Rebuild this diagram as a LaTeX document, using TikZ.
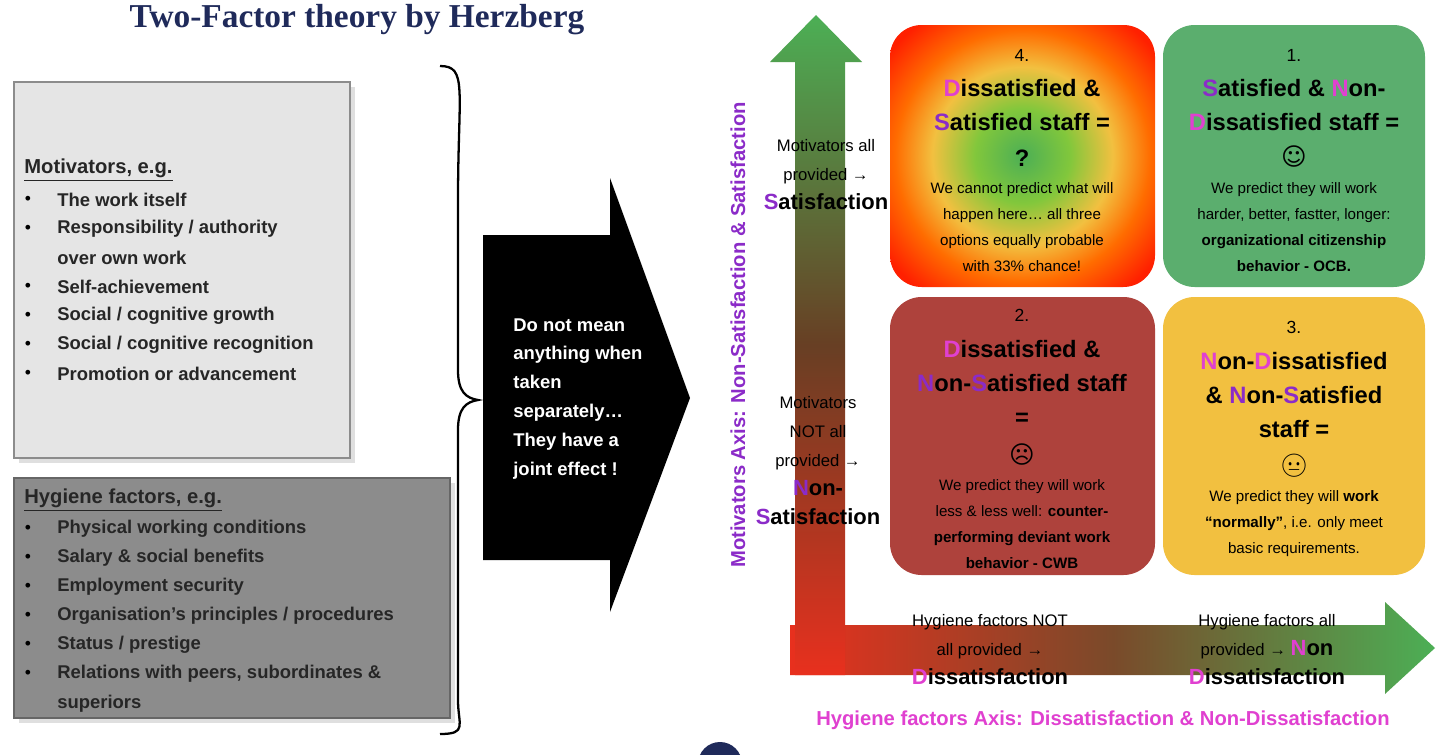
\documentclass[tikz,border=0pt]{standalone}
\usepackage{fontspec}
\setmainfont{Liberation Sans}
\newfontfamily\serifb{Liberation Serif}
\newfontfamily\dejavu{DejaVu Sans}
\newfontfamily\emo{Noto Emoji}
\usetikzlibrary{shadows,shapes.arrows}
\definecolor{navy}{HTML}{1F2A5A}
\definecolor{mag}{HTML}{E040D0}
\definecolor{pur}{HTML}{8B2BC8}
\definecolor{qgreen}{HTML}{5BAE6E}
\definecolor{qred}{HTML}{AE423C}
\definecolor{qyel}{HTML}{F2C040}
\definecolor{agreen}{HTML}{4CAF55}
\definecolor{ared}{HTML}{E8301E}
\definecolor{abrown}{HTML}{7A4A2A}
\pgfdeclareradialshading{qfour}{\pgfpoint{0bp}{0bp}}{color(0bp)=(agreen);color(9bp)=(agreen!70!yellow);color(17bp)=(qyel);color(24bp)=(orange!85!red);color(32bp)=(red!75!orange);color(50bp)=(red!75!orange)}
\newcommand{\Dm}{\textcolor{mag}{D}}
\newcommand{\Sp}{\textcolor{pur}{S}}
\newcommand{\Np}{\textcolor{pur}{N}}
\newcommand{\Nm}{\textcolor{mag}{N}}
\begin{document}
\begin{tikzpicture}[x=0.02cm,y=-0.02cm,
  item/.style={anchor=west,font=\fontsize{10.5}{12}\selectfont\bfseries,text=black!85,inner sep=0},
  bul/.style={anchor=center,font=\fontsize{10}{12}\selectfont,inner sep=0},
  qhead/.style={align=center,font=\fontsize{13.5}{19.5}\selectfont\bfseries,inner sep=0},
  qnum/.style={font=\fontsize{10}{12}\selectfont,inner sep=0},
  qsmall/.style={align=center,font=\fontsize{8.6}{14.8}\selectfont,inner sep=0},
  side/.style={align=center,font=\fontsize{9.5}{16.5}\selectfont,inner sep=0},
  quad/.style={rounded corners=18pt}]
\useasboundingbox (0,0) rectangle (1440,754);
\fill[white] (0,0) rectangle (1440,754);
% title
\node[font=\serifb\fontsize{19}{22}\selectfont\bfseries,text=navy] (title) at (357,20) {Two-Factor theory by Herzberg};
% boxes
\draw[fill=black!10,draw=black!45,line width=1.2pt,drop shadow={opacity=0.25}] (14,82) rectangle (350,458);
\node[item,font=\fontsize{11.5}{13}\selectfont\bfseries] (mh) at (24,170) {\underline{Motivators, e.g.}};
\foreach \t [count=\i] in {The work itself,Responsibility / authority,{},Self-achievement,Social / cognitive growth,Social / cognitive recognition,Promotion or advancement}{
  \node[item] (m\i) at (57,171+29*\i) {\t};}
\node[item] (m3) at (57,258) {over own work};
\foreach \y in {200,229,287,316,345,374} \node[bul] at (28,\y) {•};
\draw[fill=black!45,draw=black!60,line width=1.2pt,drop shadow={opacity=0.25}] (14,478) rectangle (450,718);
\node[item,font=\fontsize{11.5}{13}\selectfont\bfseries] (hh) at (24,500) {\underline{Hygiene factors, e.g.}};
\foreach \t [count=\i] in {Physical working conditions,Salary \& social benefits,Employment security,Organisation's principles / procedures,Status / prestige,{Relations with peers, subordinates \&}}{
  \node[item] (h\i) at (57,500+29*\i) {\t};
  \node[bul] at (28,500+29*\i) {•};}
\node[item] (h7) at (57,704) {superiors};
% brace
\draw[line width=1.3pt] (440,66) .. controls (468,66) and (458,90) .. (458,200) -- (458,370) .. controls (458,392) and (466,398) .. (478,400) .. controls (466,402) and (458,408) .. (458,430) -- (458,700) .. controls (458,725) and (468,734) .. (440,734);
% black arrow
\fill[black] (483,235) -- (610,235) -- (610,178) -- (690,398) -- (610,612) -- (610,560) -- (483,560) -- cycle;
\node[anchor=north west,align=left,text=white,font=\fontsize{10.5}{16.4}\selectfont\bfseries,inner sep=0] (joint) at (513,318) {Do not mean\\anything when\\taken\\separately…\\They have a\\joint effect !};
% axes arrows
\shade[left color=ared,right color=agreen,middle color=abrown] (790,625) -- (1385,625) -- (1385,602) -- (1435,648) -- (1385,694) -- (1385,675) -- (790,675) -- cycle;
\shade[top color=agreen,bottom color=ared,middle color=abrown!85!black] (795,675) -- (795,62) -- (770,62) -- (816,15) -- (862,62) -- (845,62) -- (845,675) -- cycle;
\node[rotate=90,text=pur,font=\fontsize{11.5}{13}\selectfont\bfseries] (vaxis) at (738,335) {Motivators Axis: Non-Satisfaction \& Satisfaction};
\node[text=mag,font=\fontsize{11.5}{13}\selectfont\bfseries] (haxis) at (1103,720) {Hygiene factors Axis: Dissatisfaction \& Non-Dissatisfaction};
% quadrants
\shade[quad,shading=qfour] (890,25) rectangle (1155,287);
\fill[quad,qgreen] (1163,25) rectangle (1425,287);
\fill[quad,qred] (890,297) rectangle (1155,575);
\fill[quad,qyel] (1163,297) rectangle (1425,575);
% q4
\node[qnum] (n4) at (1022,55) {4.};
\node[qhead] (t4) at (1022,105) {\Dm issatisfied \&\\\Sp atisfied staff =};
\node[qhead] (t4b) at (1022,158) {?};
\node[qsmall] (s4) at (1022,227) {We cannot predict what will\\happen here… all three\\options equally probable\\with 33\% chance!};
% q1
\node[qnum] (n1) at (1294,55) {1.};
\node[qhead] (t1) at (1294,105) {\Sp atisfied \& \Nm on-\\\Dm issatisfied staff =};
\node[font=\dejavu\fontsize{14}{16}\selectfont,inner sep=0] (e1) at (1294,157) {☺};
\node[qsmall] (s1) at (1294,227) {We predict they will work\\harder, better, fastter, longer:\\\textbf{organizational citizenship}\\\textbf{behavior - OCB.}};
% q2
\node[qnum] (n2) at (1022,315) {2.};
\node[qhead] (t2) at (1022,383) {\Dm issatisfied \&\\\Np on-\Sp atisfied staff\\=};
\node[font=\dejavu\fontsize{14}{16}\selectfont,inner sep=0] (e2) at (1022,455) {☹};
\node[qsmall] (s2) at (1022,524) {We predict they will work\\less \& less well: \textbf{counter-}\\\textbf{performing deviant work}\\\textbf{behavior - CWB}};
% q3
\node[qnum] (n3) at (1294,327) {3.};
\node[qhead] (t3) at (1294,395) {\Nm on-\Dm issatisfied\\\& \Np on-\Sp atisfied\\staff =};
\node[font=\emo\fontsize{13}{16}\selectfont,inner sep=0] (e3) at (1294,466) {😐};
\node[qsmall] (s3) at (1294,524) {We predict they will \textbf{work}\\\textbf{“normally”}, i.e. only meet\\basic requirements.};
% side labels
\node[side] (sl1) at (826,175) {Motivators all\\provided →\\{\fontsize{12.5}{16.5}\selectfont\bfseries\Sp atisfaction}};
\node[side] (sl2) at (818,461) {Motivators\\NOT all\\provided →\\{\fontsize{12.5}{16.5}\selectfont\bfseries\Np on-}\\{\fontsize{12.5}{16.5}\selectfont\bfseries\Sp atisfaction}};
\node[side] (bl1) at (990,650) {Hygiene factors NOT\\all provided →\\{\fontsize{12.5}{16.5}\selectfont\bfseries\Dm issatisfaction}};
\node[side] (bl2) at (1267,650) {Hygiene factors all\\provided → {\fontsize{12.5}{16.5}\selectfont\bfseries\Nm on}\\{\fontsize{12.5}{16.5}\selectfont\bfseries\Dm issatisfaction}};
% bottom circle
\fill[navy] (720,764) circle (22);
\end{tikzpicture}
\end{document}
